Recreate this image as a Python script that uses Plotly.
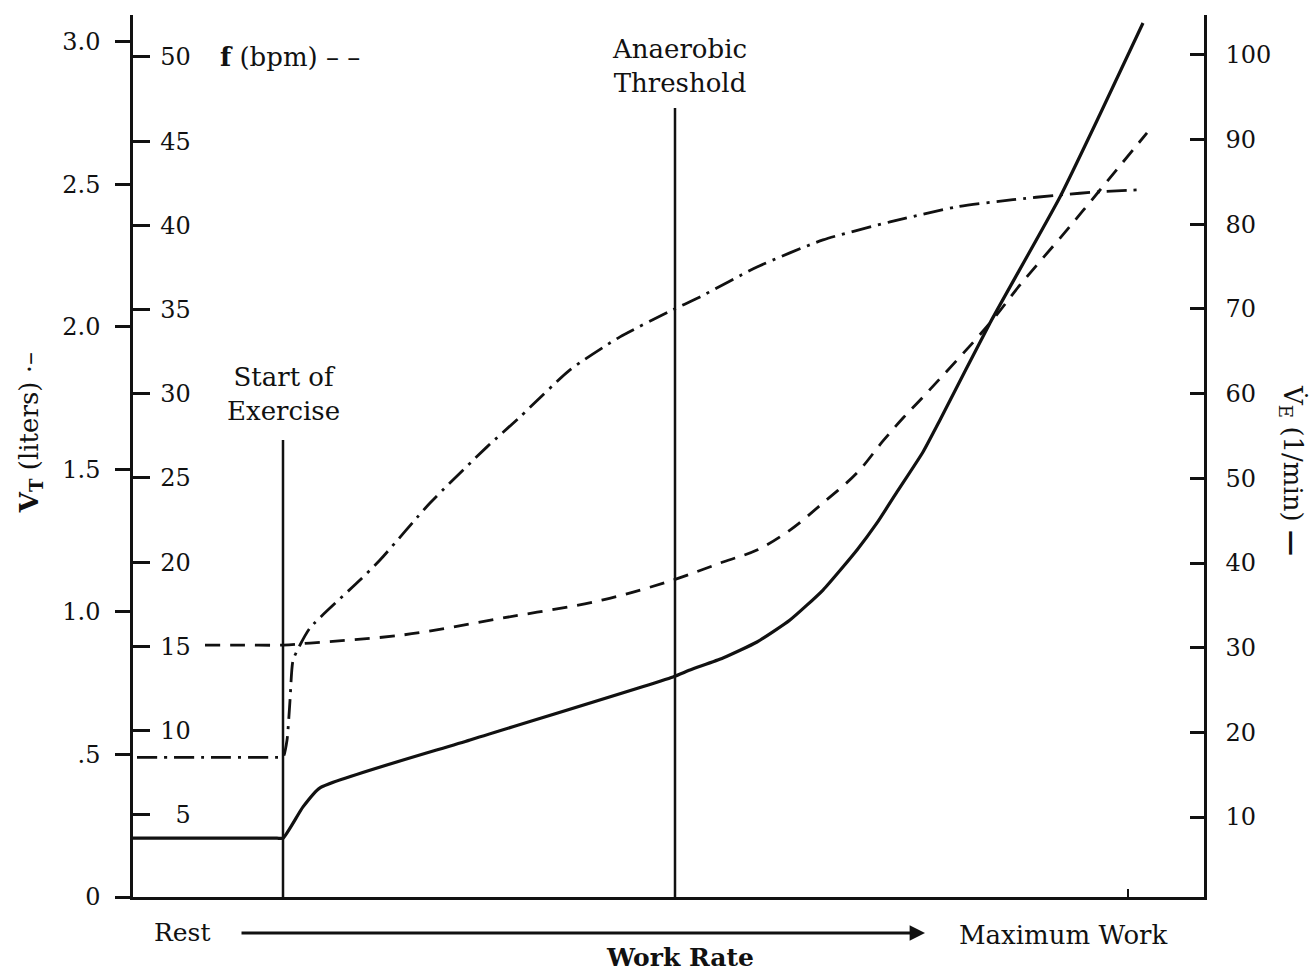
import plotly.graph_objects as go

# ---- data (work rate in arbitrary units, Rest = 0) ----
start_exercise = 15.0
anaerobic_threshold = 54.2
max_work_tick = 99.5

# Minute ventilation VE (l/min) - solid, right axis
ve_x = [0, 7.5, 14.4, 15.0, 17.0, 18.7, 33.7, 54.0, 55.7, 59.0, 62.4, 65.7, 69.0, 72.4, 74.4, 76.4, 79.0, 80.7, 85.7, 92.7, 96.7, 101.0]
ve_y = [7.5, 7.5, 7.5, 7.5, 11.2, 13.45, 19.1, 26.55, 27.37, 28.78, 30.67, 33.27, 36.81, 41.54, 44.73, 48.39, 53.11, 56.89, 68.35, 83.23, 93.0, 103.78]

# Breathing frequency f (bpm) - dashed, inner left axis
f_x = [7.2, 11.0, 15.0, 17.7, 27.0, 37.0, 47.0, 54.0, 59.0, 62.4, 65.7, 69.0, 72.4, 75.0, 77.0, 79.0, 85.7, 88.7, 93.4, 96.7, 101.4]
f_y = [15.08, 15.08, 15.08, 15.2, 15.68, 16.69, 17.76, 18.94, 20.01, 20.72, 21.91, 23.52, 25.3, 27.2, 28.56, 29.81, 34.2, 36.46, 39.73, 42.1, 45.49]

# Tidal volume VT (liters) - dash-dot, outer left axis
vt_x = [0.4, 7.5, 14.5, 15.0, 15.4, 15.7, 16.0, 16.7, 17.7, 22.7, 24.7, 29.7, 35.4, 38.7, 43.7, 48.7, 54.0, 56.7, 62.4, 69.0, 75.7, 82.4, 88.0, 92.7, 96.7, 100.7]
vt_y = [0.49, 0.49, 0.49, 0.49, 0.55, 0.69, 0.83, 0.884, 0.944, 1.112, 1.182, 1.382, 1.579, 1.684, 1.849, 1.965, 2.06, 2.105, 2.21, 2.305, 2.368, 2.421, 2.446, 2.463, 2.474, 2.481]

vt_ticks = [0, 0.5, 1.0, 1.5, 2.0, 2.5, 3.0]
vt_ticktext = ["0", ".5", "1.0", "1.5", "2.0", "2.5", "3.0"]
f_ticks = [5, 10, 15, 20, 25, 30, 35, 40, 45, 50]
f_ticktext = ["\u20075", "10", "15", "20", "25", "30", "35", "40", "45", "50"]
ve_ticks = [10, 20, 30, 40, 50, 60, 70, 80, 90, 100]

FONT = "DejaVu Serif"
INK = "#111111"

fig = go.Figure()
fig.add_trace(go.Scatter(x=vt_x, y=vt_y, yaxis="y", mode="lines",
                         line=dict(color=INK, width=2.8, dash="20px,7px,3px,7px",
                                   shape="spline", smoothing=0.6),
                         name="VT", showlegend=False))
fig.add_trace(go.Scatter(x=f_x, y=f_y, yaxis="y2", mode="lines",
                         line=dict(color=INK, width=2.8, dash="15px,10px",
                                   shape="spline", smoothing=1.0),
                         name="f", showlegend=False))
fig.add_trace(go.Scatter(x=ve_x, y=ve_y, yaxis="y3", mode="lines",
                         line=dict(color=INK, width=3.2, shape="spline", smoothing=0.5),
                         name="VE", showlegend=False))

tickfont = dict(family=FONT, size=24, color=INK)

fig.update_layout(
    width=1315, height=976,
    margin=dict(l=133, r=111, t=15, b=79),
    paper_bgcolor="white", plot_bgcolor="white",
    font=dict(family=FONT, color=INK),
    xaxis=dict(range=[0, 107.1], showline=True, linecolor=INK, linewidth=2.5,
               showgrid=False, zeroline=False, ticks="inside", tickvals=[max_work_tick],
               ticklen=8, tickwidth=1.5, tickcolor=INK, showticklabels=False),
    yaxis=dict(range=[0, 3.094], side="left", showline=True, linecolor=INK, linewidth=2.5,
               showgrid=False, zeroline=False, ticks="outside", ticklen=15, tickwidth=2.5,
               tickcolor=INK, tickvals=vt_ticks, ticktext=vt_ticktext, tickfont=tickfont,
               ticklabelstandoff=10),
    yaxis2=dict(range=[0.12, 52.49], overlaying="y", side="left", anchor="x",
                showline=False, showgrid=False, zeroline=False, ticks="inside",
                ticklen=17, tickwidth=2.5, tickcolor=INK, tickvals=f_ticks,
                ticktext=f_ticktext, ticklabelposition="inside", tickfont=tickfont,
                ticklabelstandoff=12),
    yaxis3=dict(range=[0.555, 104.72], overlaying="y", side="right", anchor="x",
                showline=True, linecolor=INK, linewidth=2.5, showgrid=False, zeroline=False,
                ticks="inside", ticklen=14, tickwidth=2.5, tickcolor=INK, tickvals=ve_ticks,
                tickfont=tickfont, ticklabelstandoff=14),
)

# reference lines
fig.add_shape(type="line", xref="x", yref="paper", x0=start_exercise, x1=start_exercise,
              y0=0, y1=0.518, line=dict(color=INK, width=2.5))
fig.add_shape(type="line", xref="x", yref="paper", x0=anaerobic_threshold, x1=anaerobic_threshold,
              y0=0, y1=0.8946, line=dict(color=INK, width=2.5))

ann_font = dict(family=FONT, size=26, color=INK)
fig.add_annotation(x=start_exercise, xref="x", y=0.570, yref="paper", text="Start of<br>Exercise",
                   showarrow=False, font=ann_font, xanchor="center", yanchor="middle")
fig.add_annotation(x=anaerobic_threshold + 0.4, xref="x", y=0.9427, yref="paper",
                   text="Anaerobic<br>Threshold", showarrow=False, font=ann_font,
                   xanchor="center", yanchor="middle")
fig.add_annotation(x=8.5, xref="x", y=50, yref="y2", text="<b>f</b> (bpm) \u2013 \u2013",
                   showarrow=False, font=ann_font, xanchor="left", yanchor="middle")
fig.add_annotation(x=-0.0962, xref="paper", y=0.527, yref="paper",
                   text="<b>V<sub>T</sub></b> (liters) \u00b7\u2013", textangle=-90,
                   showarrow=False, font=ann_font, xanchor="center", yanchor="middle")
fig.add_annotation(x=1.0822, xref="paper", y=0.484, yref="paper",
                   text="V\u0307<sub>E</sub> (1/min) <b>\u2014</b>", textangle=90,
                   showarrow=False, font=ann_font, xanchor="center", yanchor="middle")
fig.add_annotation(x=0.0458, xref="paper", y=-0.0408, yref="paper", text="Rest",
                   showarrow=False, font=dict(family=FONT, size=25, color=INK),
                   xanchor="center", yanchor="middle")
fig.add_annotation(x=0.868, xref="paper", y=-0.043, yref="paper", text="Maximum Work",
                   showarrow=False, font=dict(family=FONT, size=26, color=INK),
                   xanchor="center", yanchor="middle")
fig.add_annotation(x=0.5107, xref="paper", y=-0.069, yref="paper", text="<b>Work Rate</b>",
                   showarrow=False, font=dict(family=FONT, size=25, color=INK),
                   xanchor="center", yanchor="middle")
fig.add_annotation(x=0.7395, xref="paper", y=-0.0408, yref="paper", text="",
                   showarrow=True, arrowhead=2, arrowsize=1.1, arrowwidth=2.8, arrowcolor=INK,
                   ax=-685, ay=0, axref="pixel", ayref="pixel")

fig.write_html("out.html")
